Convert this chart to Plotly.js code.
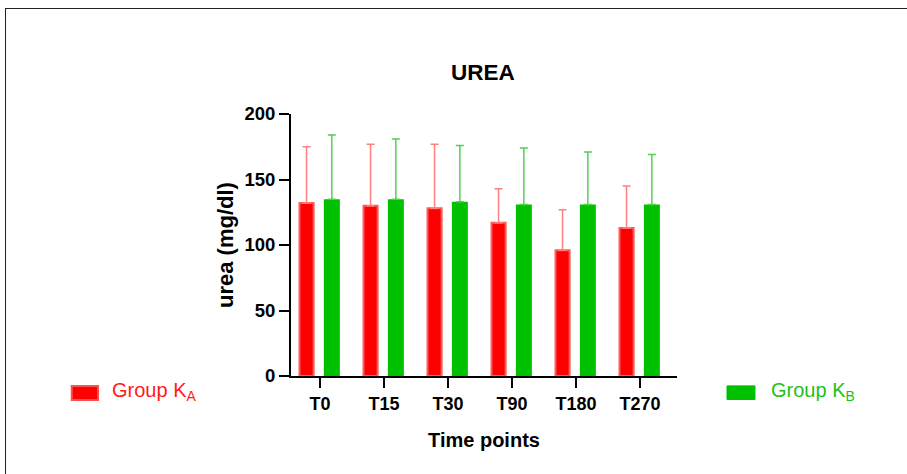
<!DOCTYPE html>
<html>
<head>
<meta charset="utf-8">
<script src="https://cdn.plot.ly/plotly-3.0.1.min.js"></script>
<style>
html,body{margin:0;padding:0;background:#fff;}
#wrap{position:relative;width:907px;height:474px;overflow:hidden;}
#frame{position:absolute;left:5px;top:8px;width:1000px;height:1000px;border-left:1.5px solid #222;border-top:1.5px solid #222;pointer-events:none;}
#chart{position:absolute;left:0;top:0;width:907px;height:474px;}
</style>
</head>
<body>
<div id="wrap"><div id="chart"></div><div id="frame"></div></div>
<script>
const categories = ["T0","T15","T30","T90","T180","T270"];
const groupA = [132, 130, 128, 117, 96, 113];
const groupA_err = [43, 47, 49, 26, 31, 32];
const groupB = [135, 135, 133, 131, 131, 131];
const groupB_err = [49, 46, 43, 43, 40, 38];
const seriesNames = ["Group K<sub>A</sub>", "Group K<sub>B</sub>"];

const zeros = categories.map(() => 0);
const fam = "Arial, 'Liberation Sans', sans-serif";
const bold = {family: fam, weight: "bold", color: "#000"};

const traces = [
  {
    type: "bar", x: categories, y: groupA, name: seriesNames[0],
    offset: -0.32, width: 0.22,
    marker: {color: "#ff0000", line: {color: "rgba(255,90,90,1)", width: 2}},
    error_y: {type: "data", array: groupA_err, arrayminus: zeros, symmetric: false,
              color: "#ff8080", thickness: 1.5, width: 4},
    showlegend: false
  },
  {
    type: "bar", x: categories, y: groupB, name: seriesNames[1],
    offset: 0.06, width: 0.25,
    marker: {color: "#00c000", line: {color: "#00c000", width: 0}},
    error_y: {type: "data", array: groupB_err, arrayminus: zeros, symmetric: false,
              color: "#50d050", thickness: 1.5, width: 4},
    showlegend: false
  }
];

const layout = {
  width: 907, height: 474,
  margin: {l: 291, r: 230, t: 114, b: 98},
  paper_bgcolor: "#fff", plot_bgcolor: "#fff",
  barmode: "overlay",
  title: {text: "UREA", font: Object.assign({size: 22.5}, bold), x: 0.5325, xanchor: "center", y: 0.848, yanchor: "middle"},
  xaxis: {
    type: "category", range: [-0.453, 5.578],
    showline: true, linecolor: "#000", linewidth: 2,
    ticks: "outside", ticklen: 10, tickwidth: 2, tickcolor: "#000",
    tickfont: Object.assign({size: 18}, bold),
    showgrid: false, zeroline: false,
    title: {text: "Time points", font: Object.assign({size: 20}, bold), standoff: 20}
  },
  yaxis: {
    range: [0, 200], tickvals: [0, 50, 100, 150, 200],
    showline: true, linecolor: "#000", linewidth: 2,
    ticks: "outside", ticklen: 10, tickwidth: 2, tickcolor: "#000",
    tickfont: Object.assign({size: 18.5}, bold),
    showgrid: false, zeroline: false,
    title: {text: "urea (mg/dl)", font: Object.assign({size: 22}, bold), standoff: 5}
  },
  shapes: [
    {type: "rect", xref: "paper", yref: "paper", x0: -0.568, x1: -0.5, y0: -0.0916, y1: -0.038,
     fillcolor: "#ff0000", line: {color: "#ff5050", width: 2}},
    {type: "rect", xref: "paper", yref: "paper", x0: 1.1295, x1: 1.202, y0: -0.0897, y1: -0.0378,
     fillcolor: "#00c000", line: {color: "#00c000", width: 1}}
  ],
  annotations: [
    {xref: "paper", yref: "paper", x: -0.470, y: -0.061, xanchor: "left", yanchor: "middle", showarrow: false,
     text: seriesNames[0], font: {family: fam, size: 20, color: "#ff1a1a"}},
    {xref: "paper", yref: "paper", x: 1.238, y: -0.058, xanchor: "left", yanchor: "middle", showarrow: false,
     text: seriesNames[1], font: {family: fam, size: 20, color: "#1ec01e"}}
  ]
};

Plotly.newPlot("chart", traces, layout, {displayModeBar: false, staticPlot: true});
</script>
</body>
</html>
